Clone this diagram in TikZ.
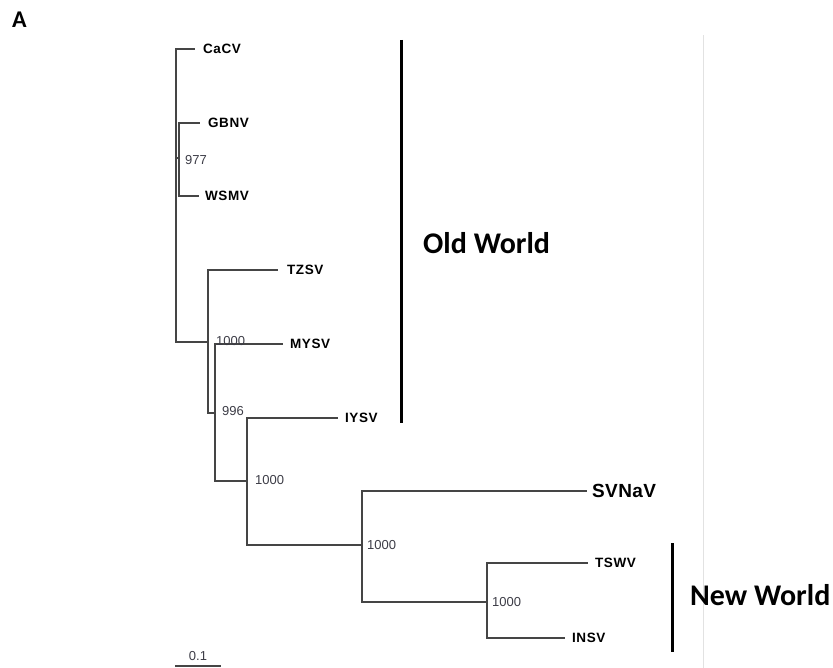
\documentclass[tikz,border=0pt]{standalone}
\usepackage{fontspec}
\setmainfont{Liberation Sans}
\newfontfamily\leaffont[LetterSpace=4]{Liberation Sans}
\newfontfamily\bigleaffont[LetterSpace=2]{Liberation Sans}
\newfontfamily\calfont{Carlito}
\definecolor{treegray}{HTML}{454545}
\definecolor{numgray}{HTML}{3C3C46}
\definecolor{faintgray}{HTML}{E2E2E2}
\begin{document}
\begin{tikzpicture}[x=1pt,y=-1pt,
  branch/.style={draw=treegray, line width=1.1pt},
  leaf/.style={anchor=west, inner ysep=0pt, text height=9.5pt, text depth=0pt, font=\leaffont\bfseries\fontsize{13.5}{14}\selectfont},
  bigleaf/.style={anchor=west, inner ysep=0pt, text height=13.5pt, text depth=0pt, font=\bigleaffont\bfseries\fontsize{19}{20}\selectfont},
  boot/.style={anchor=west, inner sep=0pt, text height=9pt, text depth=0pt, text=numgray, font=\fontsize{13}{14}\selectfont},
  groupbar/.style={draw=black, line width=3pt},
  grouplabel/.style={anchor=west, inner sep=0pt, font=\calfont\bfseries\fontsize{30}{32}\selectfont}]
\useasboundingbox (0,0) rectangle (833,668);

% faint frame line
\coordinate (f1) at (703,35);
\coordinate (f2) at (703,668);
\draw[faintgray, line width=0.8pt] (f1) -- (f2);

% panel letter
\node[anchor=west, inner sep=0pt, font=\calfont\bfseries\fontsize{24}{26}\selectfont] (panelA) at (12,20) {A};

% internal nodes
\coordinate (root) at (176,158);
\coordinate (n2) at (179,158);
\coordinate (n3) at (208,342);
\coordinate (n4) at (215,413);
\coordinate (n5) at (247,481);
\coordinate (n6) at (362,545);
\coordinate (n7) at (487,602);

% leaves
\node[leaf, inner xsep=8pt] (CaCV) at (195,49) {CaCV};
\node[leaf, inner xsep=8pt] (GBNV) at (200,123) {GBNV};
\node[leaf, inner xsep=6pt] (WSMV) at (199,196) {WSMV};
\node[leaf, inner xsep=9pt] (TZSV) at (278,270) {TZSV};
\node[leaf, inner xsep=7pt] (MYSV) at (283,344) {MYSV};
\node[leaf, inner xsep=7pt] (IYSV) at (338,418) {IYSV};
\node[bigleaf, inner xsep=5pt] (SVNaV) at (587,491) {SVNaV};
\node[leaf, inner xsep=7pt] (TSWV) at (588,563) {TSWV};
\node[leaf, inner xsep=7pt] (INSV) at (565,638) {INSV};

% branches
\draw[branch] (root) |- (CaCV.west);
\draw[branch] (root) |- (n3);
\draw[branch] (root) -- (n2);
\draw[branch] (n2) |- (GBNV.west);
\draw[branch] (n2) |- (WSMV.west);
\draw[branch] (n3) |- (TZSV.west);
\draw[branch] (n3) |- (n4);
\draw[branch] (n4) |- (MYSV.west);
\draw[branch] (n4) |- (n5);
\draw[branch] (n5) |- (IYSV.west);
\draw[branch] (n5) |- (n6);
\draw[branch] (n6) |- (SVNaV.west);
\draw[branch] (n6) |- (n7);
\draw[branch] (n7) |- (TSWV.west);
\draw[branch] (n7) |- (INSV.west);

% bootstrap values
\node[boot] (b977) at (185,160) {977};
\node[boot] (b1000a) at (216,341) {1000};
\node[boot] (b996) at (222,411) {996};
\node[boot] (b1000b) at (255,480) {1000};
\node[boot] (b1000c) at (367,545) {1000};
\node[boot] (b1000d) at (492,602) {1000};

% group bars
\coordinate (ow1) at (401,40);
\coordinate (ow2) at (401,423);
\draw[groupbar] (ow1) -- (ow2);
\node[grouplabel] (OW) at (423,243) {Old World};
\coordinate (nw1) at (672,543);
\coordinate (nw2) at (672,652);
\draw[groupbar] (nw1) -- (nw2);
\node[grouplabel] (NW) at (690,595) {New World};

% scale bar
\coordinate (s1) at (175,665.5);
\coordinate (s2) at (221,665.5);
\draw[treegray, line width=2pt] (s1) -- (s2);
\node[inner sep=0pt, text height=9pt, text depth=0pt, text=numgray, font=\fontsize{13}{14}\selectfont] (scale) at (198,656) {0.1};
\end{tikzpicture}
\end{document}
